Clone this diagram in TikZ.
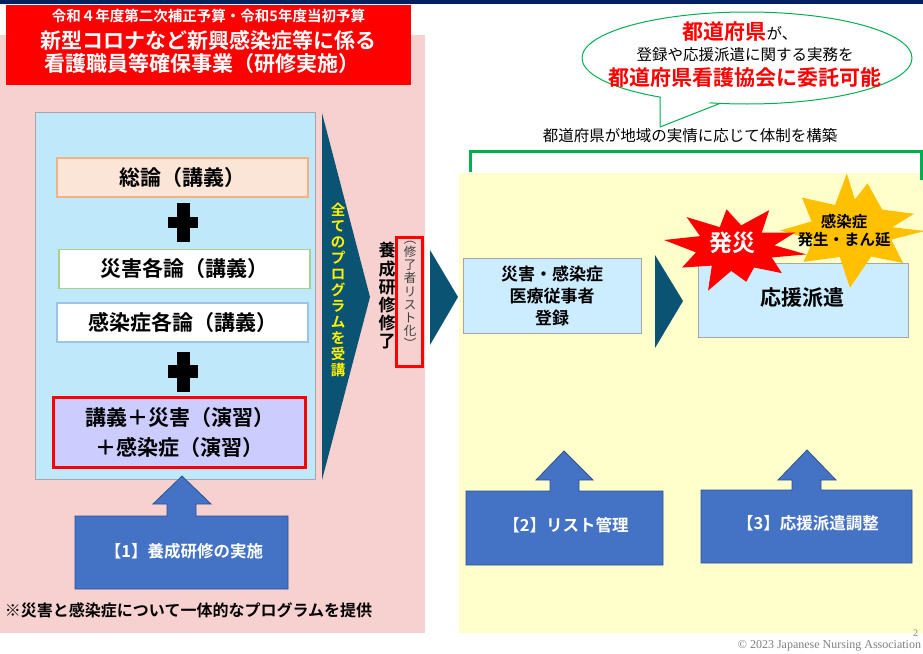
\documentclass[tikz,border=0pt]{standalone}
\usepackage{fontspec}
\setmainfont{Noto Sans CJK JP}[BoldFont={Noto Sans CJK JP Bold}]
\newfontfamily\serifen{Liberation Serif}
\definecolor{navy}{HTML}{002060}
\definecolor{pinkbg}{HTML}{F7D0D0}
\definecolor{yellowbg}{HTML}{FFFFCC}
\definecolor{cyanbg}{HTML}{BFE9FA}
\definecolor{peach}{HTML}{FBE5D6}
\definecolor{peachline}{HTML}{F4B183}
\definecolor{greenline}{HTML}{A9D18E}
\definecolor{blueline}{HTML}{9DC3E6}
\definecolor{lavender}{HTML}{CCCCFF}
\definecolor{chev}{HTML}{0B5373}
\definecolor{brgreen}{HTML}{00B050}
\definecolor{boxblue}{HTML}{CCECFF}
\definecolor{boxline}{HTML}{A6A6A6}
\definecolor{arrblue}{HTML}{4472C4}
\definecolor{arrline}{HTML}{2F528F}
\definecolor{starorange}{HTML}{FFC000}
\definecolor{darktxt}{HTML}{404040}
\tikzset{
  plain/.style={inner sep=0pt, outer sep=0pt},
  course/.style={plain, minimum width=251pt, minimum height=39pt, line width=1.2pt, font=\bfseries\fontsize{21}{24}\selectfont},
  infobox/.style={plain, fill=boxblue, draw=boxline, line width=1pt, font=\bfseries\fontsize{17}{22}\selectfont, align=center},
  callout/.style={fill=arrblue, draw=arrline, line width=0.8pt},
  callouttext/.style={plain, text=white, font=\bfseries\fontsize{16.5}{20}\selectfont},
  chevron/.style={fill=chev},
  vtext/.style={plain, align=center}
}
\begin{document}
\begin{tikzpicture}[x=1pt,y=-1pt]
\useasboundingbox (0,0) rectangle (923,653);
\fill[white] (0,0) rectangle (923,653);
\fill[navy] (0,0) rectangle (923,4);
% panels
\fill[pinkbg] (0,35) rectangle (425,633);
\fill[yellowbg] (459,173) rectangle (923,633);
\draw[brgreen, line width=3pt] (470,172) -- (470,151) -- (921,151) -- (921,180);

% title
\node[plain, fill=red, minimum width=405pt, minimum height=80pt] (title) at (208.5,45) {};
\node[plain, text=white, font=\bfseries\fontsize{14.5}{16}\selectfont] (t1) at (208.5,16) {令和４年度第二次補正予算・令和5年度当初予算};
\node[plain, text=white, font=\bfseries\fontsize{21}{24}\selectfont] (t2) at (208.5,40) {新型コロナなど新興感染症等に係る};
\node[plain, text=white, font=\bfseries\fontsize{21}{24}\selectfont] (t3) at (202,64) {看護職員等確保事業（研修実施）};

% program box
\node[plain, fill=cyanbg, draw=boxline, line width=0.8pt, minimum width=280pt, minimum height=367pt] (prog) at (175,295.5) {};
\node[course, fill=peach, draw=peachline] (soron) at (182.5,177.5) {総論（講義）};
\node[course, fill=white, draw=greenline] (saigai) at (184.5,269) {災害各論（講義）};
\node[course, fill=white, draw=blueline] (kansen) at (182.5,322.5) {感染症各論（講義）};
\node[course, fill=lavender, draw=red, line width=3pt, minimum width=252pt, minimum height=70pt, align=center, font=\bfseries\fontsize{21}{30}\selectfont] (ensyu) at (179.5,432.5) {講義＋災害（演習）\\＋感染症（演習）};
% plus signs
\fill (177,203) rectangle (190,242);
\fill (168,217) rectangle (198,228);
\fill (177,352) rectangle (190,392);
\fill (168,365) rectangle (198,378);

% chevron 1 and vertical texts
\fill[chevron] (322,113) -- (370,297) -- (322,480) -- cycle;
\node[vtext, text=yellow, font=\bfseries\fontsize{14.5}{16}\selectfont] (allprog) at (338,290) {全\\て\\の\\プ\\ロ\\グ\\ラ\\ム\\を\\受\\講};
\node[vtext, font=\bfseries\fontsize{17}{18.2}\selectfont] (done) at (387,296) {養\\成\\研\\修\\修\\了};
\node[plain, draw=red, line width=3pt, minimum width=26pt, minimum height=129pt] (listbox) at (409.5,301.5) {};
\node[vtext, text=darktxt, font=\fontsize{12.5}{13.2}\selectfont] (listtxt) at (410,295) {︵\\修\\了\\者\\リ\\ス\\ト\\化\\︶};
\fill[chevron] (430,250) -- (458,297) -- (430,345) -- cycle;

% bubble
\coordinate (tailL) at (660,97);
\coordinate (tailT) at (660,127);
\coordinate (tailR) at (720,103.4);
\filldraw[fill=white, draw=brgreen, line width=1pt] (747,58) ellipse [x radius=165, y radius=46];
\fill[white] (660.6,90) -- (660.6,126) -- (719,98) -- cycle;
\draw[brgreen, line width=1pt, line join=miter] (tailL) -- (tailT) -- (tailR);
\node[plain] (b1) at (740,32) {\textcolor{red}{\bfseries\fontsize{21}{24}\selectfont 都道府県}{\fontsize{15.5}{18}\selectfont が、}};
\node[plain, font=\fontsize{15.5}{18}\selectfont] (b2) at (745,55) {登録や応援派遣に関する実務を};
\node[plain, text=red, font=\bfseries\fontsize{21}{24}\selectfont] (b3) at (745,78) {都道府県看護協会に委託可能};
\node[plain, font=\fontsize{15.5}{18}\selectfont] (build) at (690,136) {都道府県が地域の実情に応じて体制を構築};

% registration and dispatch
\node[infobox, minimum width=178pt, minimum height=75pt] (reg) at (552,295.5) {災害・感染症\\医療従事者\\登録};
\fill[chevron] (655,255) -- (683,301) -- (655,348) -- cycle;
\node[infobox, minimum width=210pt, minimum height=74pt, font=\bfseries\fontsize{21}{24}\selectfont] (dispatch) at (803,300) {};
\node[plain, font=\bfseries\fontsize{21}{24}\selectfont] (dispatchtxt) at (802,298) {応援派遣};

% stars
\begin{scope}[shift={(851,231)}]
\fill[starorange] (0:74 and 50) -- (16:42 and 31) -- (38:66 and 52) -- (58:38 and 30) -- (95:12 and 57) -- (112:30 and 28) -- (140:62 and 48) -- (160:40 and 26) -- (182:71 and 14) -- (200:42 and 28) -- (222:66 and 50) -- (240:32 and 30) -- (262:30 and 58) -- (280:22 and 32) -- (300:33 and 55) -- (318:42 and 32) -- (338:68 and 46) -- (350:42 and 22) -- cycle;
\end{scope}
\begin{scope}[shift={(735,248)}]
\fill[red] (8:72 and 46) -- (22:39.6 and 25.3) -- (40:61.2 and 39.1) -- (58:36 and 23) -- (78:54 and 34.5) -- (96:36 and 23) -- (112:72 and 46) -- (130:36 and 23) -- (150:61.2 and 39.1) -- (170:39.6 and 25.3) -- (190:72 and 46) -- (208:39.6 and 25.3) -- (225:68.4 and 43.7) -- (245:36 and 23) -- (262:61.2 and 39.1) -- (280:36 and 23) -- (300:68.4 and 43.7) -- (318:36 and 23) -- (338:64.8 and 41.4) -- (354:39.6 and 25.3) -- cycle;
\end{scope}
\node[plain, text=white, font=\bfseries\fontsize{23}{26}\selectfont] (hassai) at (732,243) {発災};
\node[plain, align=center, font=\bfseries\fontsize{15.5}{18}\selectfont] (outbreak) at (844,231) {感染症\\発生・まん延};

% callout arrows
\filldraw[callout] (75,516) -- (167,516) -- (167,504) -- (153,504) -- (182,476) -- (211,504) -- (196,504) -- (196,516) -- (288,516) -- (288,589) -- (75,589) -- cycle;
\node[callouttext] (c1) at (184,551) {【1】養成研修の実施};
\filldraw[callout] (466,491) -- (550,491) -- (550,480) -- (536,480) -- (564,451) -- (593,480) -- (579,480) -- (579,491) -- (663,491) -- (663,565) -- (466,565) -- cycle;
\node[callouttext] (c2) at (566,525) {【2】リスト管理};
\filldraw[callout] (701,490) -- (792,490) -- (792,480) -- (778,480) -- (807,450) -- (836,480) -- (821,480) -- (821,490) -- (912,490) -- (912,563) -- (701,563) -- cycle;
\node[callouttext] (c3) at (808,523) {【3】応援派遣調整};

% footer
\node[plain, anchor=west, font=\bfseries\fontsize{16}{18}\selectfont] (note) at (5,610) {※災害と感染症について一体的なプログラムを提供};
\node[plain, anchor=east, text=gray, font=\serifen\fontsize{10}{12}\selectfont] (pageno) at (918,633) {2};
\node[plain, anchor=south east, text=gray, font=\serifen\fontsize{12}{14}\selectfont] (copy) at (921,651.5) {© 2023 Japanese Nursing Association};
\end{tikzpicture}
\end{document}
